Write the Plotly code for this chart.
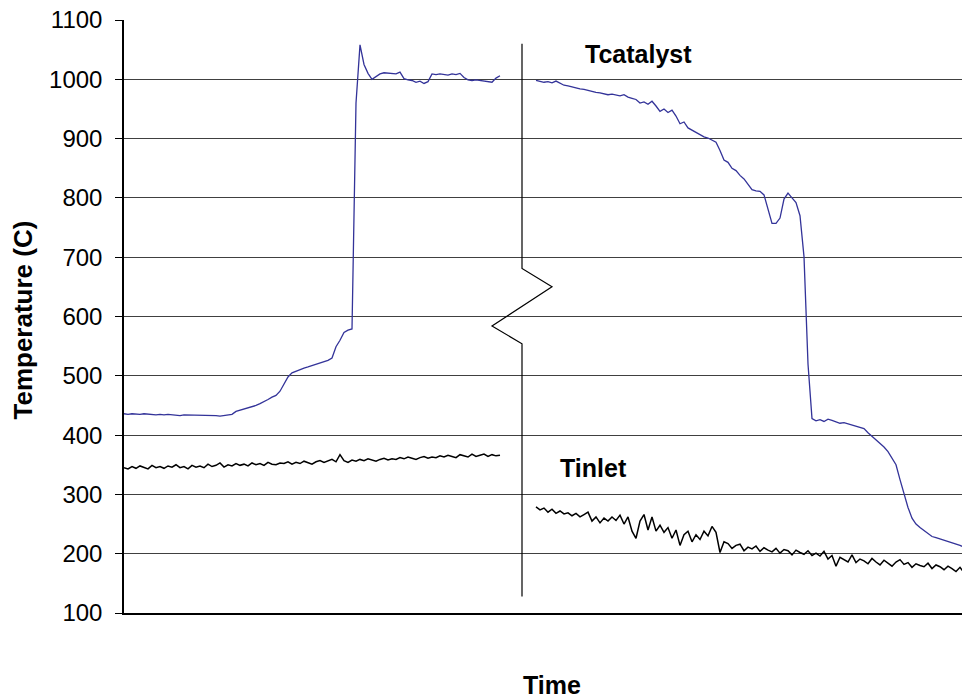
import plotly.graph_objects as go

# ---- data (time in arbitrary sample units, temperatures in C) ----
time_before = list(range(0, 95))
time_after = list(range(103, 212))

tcatalyst_before = [
    436, 435, 436, 435, 435, 436, 435, 435, 434, 435,
    434, 435, 434, 434, 433, 434, 434, 433, 434, 433,
    433, 434, 433, 433, 432, 433, 433, 435, 440, 442,
    443, 445, 447, 450, 453, 456, 460, 464, 467, 474,
    487, 498, 505, 508, 511, 513, 515, 517, 519, 522,
    524, 526, 530, 549, 560, 573, 577, 579, 960, 1058,
    1025, 1010, 1000, 1004, 1009, 1011, 1010, 1010, 1009, 1012,
    1001, 999, 998, 995, 997, 993, 996, 1009, 1008, 1009,
    1008, 1007, 1009, 1008, 1010, 1003, 999, 998, 999, 998,
    998, 997, 995, 1002, 1006,
]

tinlet_before = [
    345, 343, 347, 344, 348, 346, 343, 349, 345, 347,
    344, 348, 346, 350, 345, 347, 343, 349, 346, 348,
    345, 351, 347, 349, 353, 346, 350, 348, 352, 349,
    351, 348, 353, 350, 352, 349, 354, 351, 350, 353,
    352, 355, 351, 354, 352, 356, 353, 351, 355, 357,
    354, 356, 359, 355, 367, 357, 354, 358, 356, 359,
    357, 360, 358, 356, 359, 361, 358, 360, 359, 362,
    360, 363, 361, 359, 362, 364, 361, 363, 362, 365,
    363, 366, 364, 362, 367, 365, 363, 368, 364, 366,
    368, 364, 367, 365, 366,
]

tcatalyst_after = [
    998, 996, 995, 996, 994, 997, 993, 990, 989, 987,
    986, 984, 983, 981, 980, 978, 977, 976, 974, 975,
    973, 972, 974, 970, 968, 966, 960, 962, 958, 963,
    955, 946, 950, 944, 948, 938, 925, 928, 918, 914,
    910, 906, 903, 901, 898, 894, 880, 864, 860, 850,
    846, 838, 832, 822, 814, 812, 811, 805, 780, 757,
    757, 766, 798, 808, 800, 792, 770, 701, 520, 428,
    424, 426, 423, 427, 425, 422, 420, 421, 419, 418,
    416, 414, 411, 404, 398, 392, 386, 380, 372, 362,
    350, 325, 300, 278, 260, 250, 244, 239, 235, 229,
    227, 225, 222, 220, 218, 216, 214, 211, 206,
]

tinlet_after = [
    279, 274, 277, 270, 275, 268, 272, 267, 269, 264,
    268, 262, 266, 270, 255, 262, 252, 260, 255, 262,
    256, 265, 250, 262, 238, 226, 255, 266, 240, 262,
    238, 248, 236, 244, 226, 240, 214, 232, 238, 220,
    232, 224, 238, 230, 246, 236,
    202, 220, 217, 209, 214, 216, 205, 211, 208, 213,
    204, 210, 206, 203, 209, 201, 207, 205, 198, 206,
    202, 199, 205, 197, 201, 196, 204, 191, 197, 179,
    194, 190, 186, 198, 185, 191, 188, 183, 192, 186,
    181, 189, 184, 179, 186, 190, 182, 185, 177, 183,
    180, 178, 184, 175, 181, 178, 173, 179, 175, 170,
    177, 168, 172,
]

y_ticks = [100, 200, 300, 400, 500, 600, 700, 800, 900, 1000, 1100]

# axis-break marker (time, temperature)
break_time = [99.5, 99.5, 107, 92, 99.5, 99.5]
break_temp = [1060, 681, 650, 584, 554, 128]

FONT = "Arial, 'Liberation Sans', sans-serif"
BLUE = "#333399"

fig = go.Figure()
fig.add_trace(go.Scatter(x=time_before, y=tcatalyst_before, mode="lines",
                         line=dict(color=BLUE, width=1.3), name="Tcatalyst"))
fig.add_trace(go.Scatter(x=time_after, y=tcatalyst_after, mode="lines",
                         line=dict(color=BLUE, width=1.3), name="Tcatalyst",
                         showlegend=False))
fig.add_trace(go.Scatter(x=time_before, y=tinlet_before, mode="lines",
                         line=dict(color="black", width=1.5), name="Tinlet"))
fig.add_trace(go.Scatter(x=time_after, y=tinlet_after, mode="lines",
                         line=dict(color="black", width=1.5), name="Tinlet",
                         showlegend=False))
fig.add_trace(go.Scatter(x=break_time, y=break_temp, mode="lines",
                         line=dict(color="black", width=1.2), hoverinfo="skip",
                         showlegend=False))

fig.add_annotation(x=114.75, y=1043, text="<b>Tcatalyst</b>", showarrow=False,
                   xanchor="left", yanchor="middle",
                   font=dict(family=FONT, size=25, color="black"))
fig.add_annotation(x=108.6, y=345, text="<b>Tinlet</b>", showarrow=False,
                   xanchor="left", yanchor="middle",
                   font=dict(family=FONT, size=25, color="black"))

# axis titles
fig.add_annotation(xref="paper", yref="paper", x=0.5, y=0, xshift=5, yshift=-72,
                   text="<b>Time</b>", showarrow=False,
                   xanchor="center", yanchor="middle",
                   font=dict(family=FONT, size=25, color="black"))
fig.add_annotation(xref="paper", yref="paper", x=0, y=0.5, xshift=-102, yshift=-4,
                   text="<b>Temperature (C)</b>", showarrow=False, textangle=-90,
                   xanchor="center", yanchor="middle",
                   font=dict(family=FONT, size=26, color="black"))

# page body has an 8px margin, so the figure is sized to fit the window
fig.update_layout(
    width=962, height=690,
    margin=dict(l=116, r=0, t=12, b=85, autoexpand=False),
    paper_bgcolor="white", plot_bgcolor="white",
    showlegend=False,
    font=dict(family=FONT, size=24, color="black"),
    xaxis=dict(
        range=[0, 211.5], showgrid=False, zeroline=False,
        showticklabels=False, ticks="", automargin=False,
        showline=True, linecolor="black", linewidth=1.5,
    ),
    yaxis=dict(
        range=[100, 1100], tickvals=y_ticks, ticktext=[str(v) for v in y_ticks],
        showgrid=True, gridcolor="#404040", gridwidth=1, automargin=False,
        zeroline=False, showline=True, linecolor="black", linewidth=1.5,
        ticks="outside", ticklen=7, tickcolor="black", tickwidth=1,
        ticklabelstandoff=8, ticklabeloverflow="allow",
        tickfont=dict(family=FONT, size=24),
    ),
)

fig.write_html("out.html")
